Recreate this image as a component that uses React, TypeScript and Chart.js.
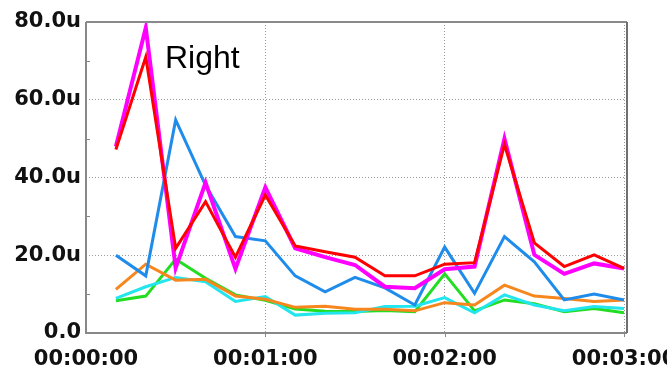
import React, { useEffect, useRef } from "react";
import { Chart, registerables } from "chart.js";

Chart.register(...registerables);

const times = [10, 20, 30, 40, 50, 60, 70, 80, 90, 100, 110, 120, 130, 140, 150, 160, 170, 180];
const redValues = [47.2, 71, 21.8, 33.8, 19.5, 35.5, 22.4, 20.9, 19.5, 14.7, 14.7, 17.7, 18.1, 48.5, 23.2, 17.1, 20.1, 16.6];
const magentaValues = [48, 78.5, 16.7, 38.7, 16.5, 37.5, 21.8, 19.5, 17.5, 11.9, 11.5, 16.4, 17.1, 50, 20.1, 15.2, 17.9, 16.6];
const blueValues = [20, 14.7, 54.8, 38, 24.8, 23.7, 14.7, 10.6, 14.3, 11.6, 7.2, 22.1, 10.2, 24.8, 18.3, 8.5, 10, 8.5];
const orangeValues = [11.2, 17.7, 13.6, 13.8, 9.5, 8.7, 6.6, 6.9, 6.1, 6.1, 5.7, 7.8, 7.2, 12.3, 9.5, 8.9, 8.1, 8.5];
const cyanValues = [8.9, 11.9, 14.3, 13.2, 8.1, 9.4, 4.6, 5.1, 5.2, 6.8, 6.9, 9.1, 5.2, 9.8, 7.2, 5.7, 6.8, 6.3];
const greenValues = [8.3, 9.5, 19, 14.1, 9.8, 8.4, 6.2, 5.6, 5.5, 5.8, 5.5, 15.2, 5.7, 8.5, 7.5, 5.5, 6.3, 5.2];

const xTickValues = [0, 60, 120, 180];
const yMajorTicks = [0, 20, 40, 60, 80];
const yMinorTicks = [10, 30, 50, 70];
const annotationText = "Right";

const fmtTime = (s: number) => {
  const h = Math.floor(s / 3600);
  const m = Math.floor((s % 3600) / 60);
  const sec = Math.round(s % 60);
  const p = (n: number) => String(n).padStart(2, "0");
  return `${p(h)}:${p(m)}:${p(sec)}`;
};

const series = [
  { label: "red", data: redValues, color: "#ff0000", width: 3 },
  { label: "magenta", data: magentaValues, color: "#ff00ff", width: 4 },
  { label: "blue", data: blueValues, color: "#1f8ceb", width: 3 },
  { label: "orange", data: orangeValues, color: "#f7861c", width: 3 },
  { label: "cyan", data: cyanValues, color: "#22e5ee", width: 3 },
  { label: "green", data: greenValues, color: "#22dd22", width: 3 },
];

const framePlugin = {
  id: "frame",
  afterDraw(chart: any) {
    const { ctx, chartArea } = chart;
    const y = chart.scales.y;
    const x = chart.scales.x;
    ctx.save();
    ctx.setLineDash([]);
    // minor ticks (inward) on the left axis
    ctx.strokeStyle = "#888888";
    ctx.lineWidth = 1;
    yMinorTicks.forEach((v) => {
      const py = Math.round(y.getPixelForValue(v)) + 0.5;
      ctx.beginPath();
      ctx.moveTo(chartArea.left, py);
      ctx.lineTo(chartArea.left + 4, py);
      ctx.stroke();
    });
    // tick marks below the x axis
    xTickValues.forEach((v) => {
      if (v === 0) return;
      const px = Math.round(x.getPixelForValue(v)) + 0.5;
      ctx.beginPath();
      ctx.moveTo(px, chartArea.bottom);
      ctx.lineTo(px, chartArea.bottom + 4);
      ctx.stroke();
    });
    // axis lines
    ctx.strokeStyle = "#888888";
    ctx.lineWidth = 2;
    ctx.beginPath();
    ctx.moveTo(chartArea.left, chartArea.top);
    ctx.lineTo(chartArea.left, chartArea.bottom);
    ctx.lineTo(chartArea.right, chartArea.bottom);
    ctx.stroke();
    ctx.strokeStyle = "#8a8a8a";
    ctx.beginPath();
    ctx.moveTo(chartArea.left, chartArea.top);
    ctx.lineTo(chartArea.right, chartArea.top);
    ctx.stroke();
    ctx.strokeStyle = "#707070";
    ctx.beginPath();
    ctx.moveTo(chartArea.right, chartArea.top);
    ctx.lineTo(chartArea.right, chartArea.bottom);
    ctx.stroke();
    ctx.fillStyle = "#000000";
    ctx.font = "32px 'Liberation Sans', Arial, sans-serif";
    ctx.textBaseline = "alphabetic";
    ctx.textAlign = "left";
    ctx.fillText(annotationText, chartArea.left + 79, chartArea.top + 45.5);
    ctx.restore();
  },
};

export default function App() {
  const ref = useRef<HTMLCanvasElement | null>(null);
  useEffect(() => {
    document.body.style.margin = "0";
    document.body.style.overflow = "hidden";
    if (!ref.current) return;
    const chart = new Chart(ref.current, {
      type: "line",
      data: {
        datasets: series.map((s) => ({
          label: s.label,
          data: times.map((t, i) => ({ x: t, y: s.data[i] })),
          borderColor: s.color,
          backgroundColor: s.color,
          borderWidth: s.width,
          pointRadius: 0,
          tension: 0,
          fill: false,
        })),
      },
      options: {
        animation: false,
        responsive: false,
        layout: { padding: { top: 22, right: 40, left: 0, bottom: 0 } },
        plugins: { legend: { display: false }, tooltip: { enabled: false } },
        scales: {
          x: {
            type: "linear",
            min: 0,
            max: 181,
            afterBuildTicks: (scale: any) => {
              scale.ticks = xTickValues.map((v) => ({ value: v }));
            },
            afterFit: (scale: any) => {
              scale.height = 35;
              scale.paddingLeft = 0;
              scale.paddingRight = 0;
            },
            ticks: {
              autoSkip: false,
              maxRotation: 0,
              padding: 10,
              color: "#111111",
              font: { family: "'DejaVu Sans'", size: 21, weight: "bold" },
              callback: (v: any) => fmtTime(Number(v)),
            },
            grid: {
              color: (c: any) => (c.tick && c.tick.value > 0 ? "#9a9a9a" : "rgba(0,0,0,0)"),
              lineWidth: 1,
              tickLength: 4,
              tickColor: "rgba(0,0,0,0)",
              drawTicks: true,
            },
            border: { display: false, dash: [1, 2] },
          },
          y: {
            type: "linear",
            min: 0,
            max: 80,
            afterBuildTicks: (scale: any) => {
              scale.ticks = yMajorTicks.map((v) => ({ value: v }));
            },
            afterFit: (scale: any) => {
              scale.width = 86;
              scale.paddingTop = 0;
              scale.paddingBottom = 0;
            },
            ticks: {
              padding: 5,
              color: "#111111",
              font: { family: "'DejaVu Sans'", size: 21, weight: "bold" },
              callback: (v: any) => (Number(v) === 0 ? "0.0" : Number(v).toFixed(1) + "u"),
            },
            grid: {
              color: (c: any) =>
                c.tick && c.tick.value > 0 && c.tick.value < 80 ? "#9a9a9a" : "rgba(0,0,0,0)",
              lineWidth: 1,
              drawTicks: false,
            },
            border: { display: false, dash: [1, 2] },
          },
        },
      } as any,
      plugins: [framePlugin],
    });
    return () => chart.destroy();
  }, []);
  return (
    <div style={{ position: "absolute", left: 0, top: 0, width: 667, height: 368 }}>
      <canvas ref={ref} width={667} height={368} style={{ display: "block" }} />
    </div>
  );
}
